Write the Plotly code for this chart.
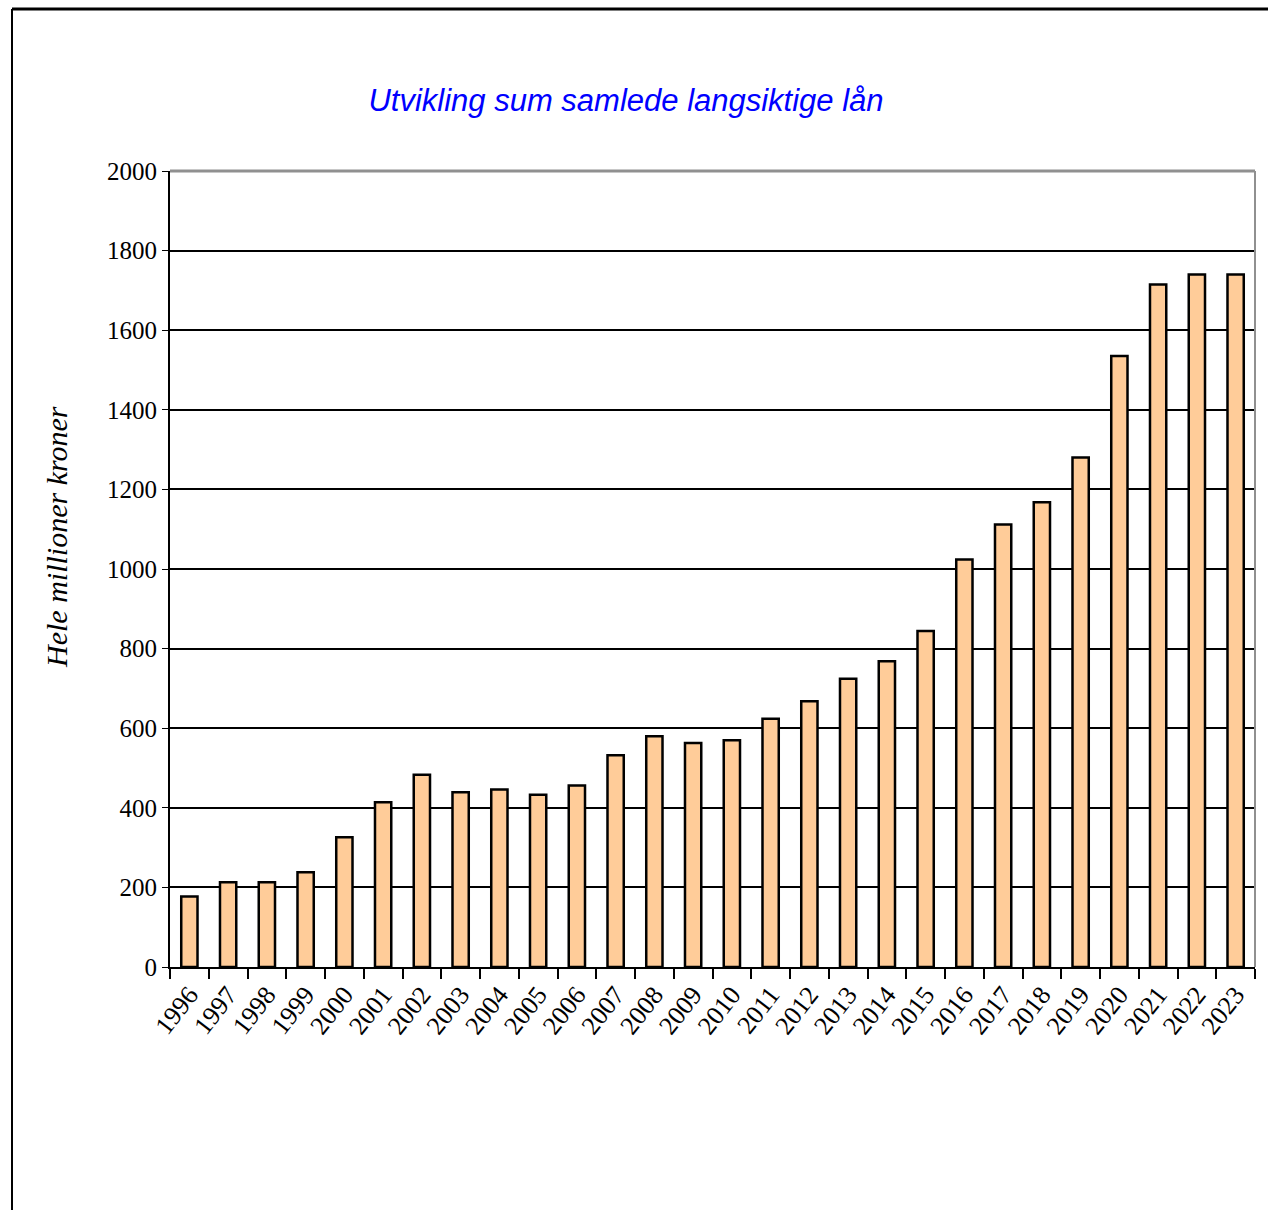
import plotly.graph_objects as go

years = [str(y) for y in range(1996, 2024)]
values = [177, 213, 213, 238, 326, 414, 483, 439, 446, 433, 456, 532, 580, 563,
          570, 624, 668, 724, 768, 844, 1024, 1112, 1168, 1280, 1535, 1715, 1740, 1740]
y_ticks = [0, 200, 400, 600, 800, 1000, 1200, 1400, 1600, 1800, 2000]
y_title = "Hele millioner kroner"

W, H = 1268, 1210
L, R, T, B = 170, 13, 171, 243
pw, ph = W - L - R, H - T - B

def px_x(p):
    return (p - L) / pw

def px_y(p):
    return (H - B - p) / ph

fig = go.Figure()
fig.add_trace(go.Bar(
    x=years, y=values,
    marker=dict(color="#FFCC99", line=dict(color="black", width=2.5)),
    width=0.42,
))

fig.update_layout(
    width=W, height=H,
    margin=dict(l=L, r=R, t=T, b=B),
    paper_bgcolor="white", plot_bgcolor="white",
    showlegend=False,
    title=dict(
        text="Utvikling sum samlede langsiktige lån",
        x=626 / W, xanchor="center", y=1 - 100 / H, yanchor="middle",
        font=dict(family="Liberation Sans Narrow, Liberation Sans, Arial Narrow", size=31,
                  color="#0000FF", style="italic"),
    ),
    xaxis=dict(
        type="category",
        showline=True, linecolor="black", linewidth=2,
        ticks="outside", ticklen=10, tickwidth=1.5, tickcolor="black",
        tickson="boundaries",
        tickangle=-52,
        tickfont=dict(family="Liberation Serif, Times New Roman", size=26, color="black"),
        showgrid=False,
    ),
    yaxis=dict(
        range=[0, 2000], tickvals=y_ticks,
        showline=True, linecolor="black", linewidth=2,
        ticks="outside", ticklen=6, tickcolor="black",
        showgrid=True, gridcolor="black", gridwidth=2,
        tickfont=dict(family="Liberation Serif, Times New Roman", size=25, color="black"),
        zeroline=False,
    ),
    annotations=[
        dict(text=y_title, xref="paper", yref="paper", x=px_x(56), y=px_y(537),
             xanchor="center", yanchor="middle", textangle=-90, showarrow=False,
             font=dict(family="Liberation Serif, Times New Roman", size=30,
                       color="black", style="italic")),
    ],
    shapes=[
        dict(type="line", xref="paper", yref="paper", x0=0, x1=1, y0=1, y1=1,
             line=dict(color="#909090", width=3), layer="above"),
        dict(type="line", xref="paper", yref="paper", x0=1, x1=1, y0=0, y1=1,
             line=dict(color="#909090", width=2), layer="above"),
        dict(type="line", xref="paper", yref="paper", x0=px_x(12), x1=px_x(W), y0=px_y(9), y1=px_y(9),
             line=dict(color="black", width=3), layer="above"),
        dict(type="line", xref="paper", yref="paper", x0=px_x(12), x1=px_x(12), y0=px_y(9), y1=px_y(H),
             line=dict(color="black", width=2), layer="above"),
    ],
)

fig.write_html("out.html", config={"displayModeBar": False},
               post_script="document.body.style.margin='0';document.body.style.overflow='hidden';")
